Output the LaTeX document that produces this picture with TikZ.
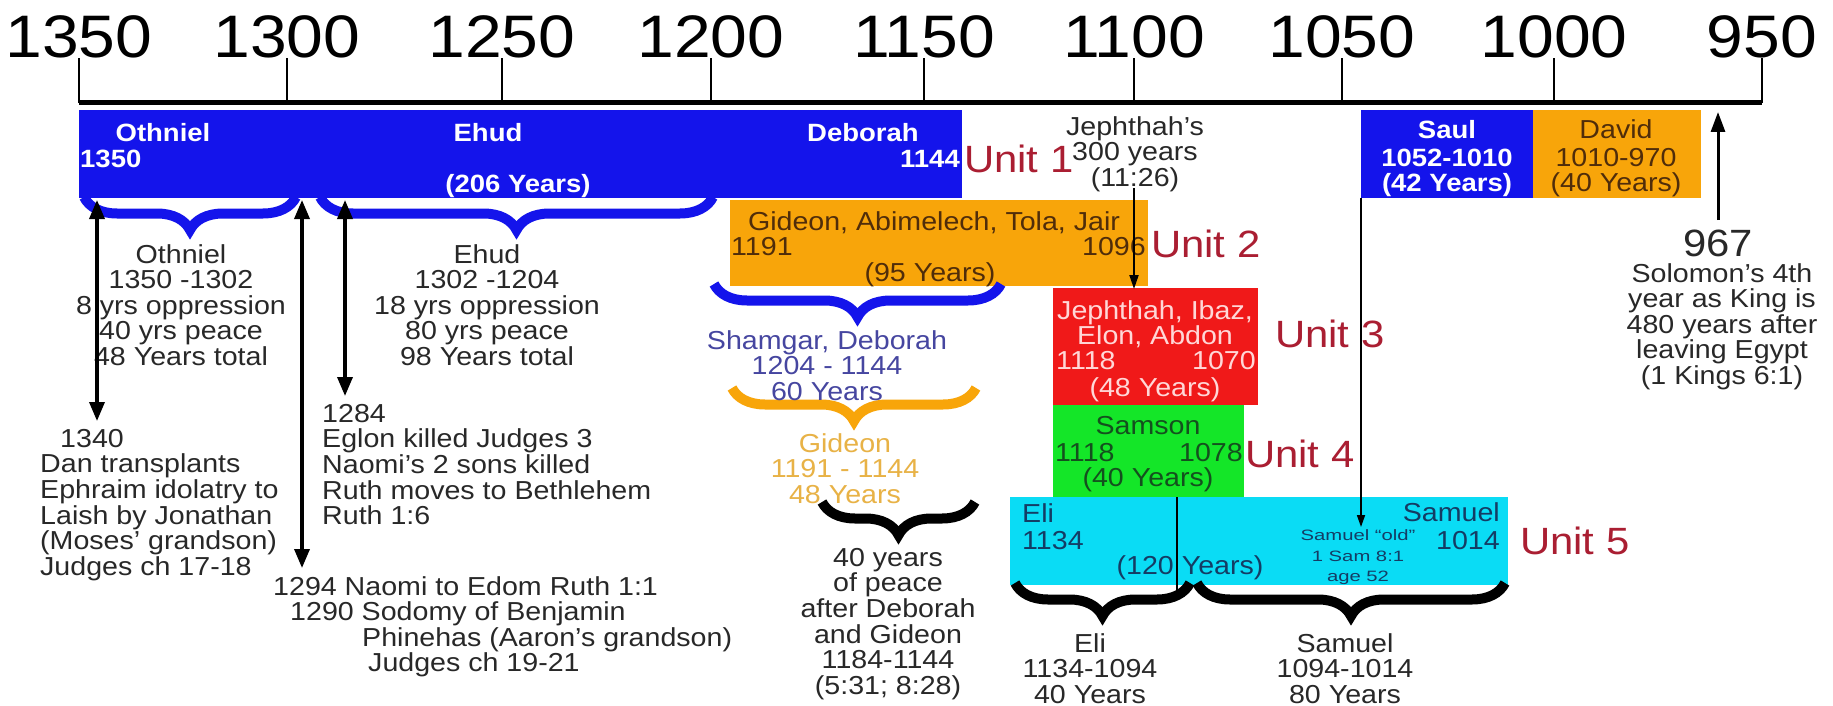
\documentclass[tikz,border=0pt]{standalone}
\usepackage{fontspec}
\setmainfont{Liberation Sans}[FakeStretch=1.1]
\newfontfamily\widefont{Liberation Sans}[FakeStretch=1.35]
\usetikzlibrary{arrows.meta,decorations.pathreplacing}
\definecolor{barblue}{RGB}{20,20,235}
\definecolor{barorange}{RGB}{248,165,10}
\definecolor{barred}{RGB}{240,25,25}
\definecolor{bargreen}{RGB}{20,230,40}
\definecolor{barcyan}{RGB}{10,220,245}
\definecolor{unitred}{RGB}{170,30,50}
\definecolor{slate}{RGB}{70,70,160}
\definecolor{lorange}{RGB}{232,178,70}
\definecolor{txtgray}{RGB}{40,40,40}
\definecolor{brown}{RGB}{80,45,10}
\definecolor{pinktxt}{RGB}{255,215,215}
\definecolor{dgreen}{RGB}{20,80,30}
\definecolor{teal}{RGB}{20,60,100}
\begin{document}
\begin{tikzpicture}[x=1pt,y=-1pt,
  yearlbl/.style={font=\fontsize{60}{60}\selectfont, inner sep=0pt, text=black},
  txt/.style={font=\fontsize{26}{25.6}\selectfont, text=txtgray, inner sep=0pt, align=center},
  lbl/.style={font=\fontsize{26}{26}\selectfont, inner sep=0pt, anchor=base},
  barlbl/.style={font=\bfseries\fontsize{25}{25}\selectfont, text=white, inner sep=0pt, anchor=base},
  unitlbl/.style={font=\fontsize{38}{38}\selectfont, text=unitred, inner sep=0pt, anchor=base west},
  small/.style={font=\widefont\fontsize{15}{15}\selectfont, text=teal, inner sep=0pt, anchor=base},
  box/.style={inner sep=0pt, anchor=north west, draw=none},
  brc/.style={decorate, decoration={brace, mirror, amplitude=33pt}, line width=10pt},
  dbl/.style={line width=3.5pt, {Triangle[length=19pt,width=15pt]}-{Triangle[length=19pt,width=15pt]}},
  thin/.style={line width=1.6pt, -{Triangle[length=12pt,width=8pt]}}
]
\useasboundingbox (0,0) rectangle (1833,706);
\fill[white] (0,0) rectangle (1833,706);

% axis
\coordinate (axL) at (79,103);
\coordinate (axR) at (1762,103);
\draw[line width=5pt] (axL) -- (axR);
\foreach \yr/\xx in {1350/79,1300/287,1250/502,1200/711,1150/924,1100/1134,1050/1342,1000/1554,950/1762}{
  \node[yearlbl] (y\yr) at (\xx,37) {\yr};
  \draw[line width=2pt] (y\yr.south) -- (y\yr.south |- axL);
}

% bars
\node[box, fill=barblue, minimum width=883pt, minimum height=88pt] (u1) at (79,110) {};
\node[box, fill=barorange, minimum width=418pt, minimum height=86pt] (u2) at (730,200) {};
\node[box, fill=barred, minimum width=205pt, minimum height=117pt] (u3) at (1053,288) {};
\node[box, fill=bargreen, minimum width=191pt, minimum height=92pt] (u4) at (1053,405) {};
\node[box, fill=barcyan, minimum width=498pt, minimum height=88pt] (u5) at (1010,497) {};
\node[box, fill=barblue, minimum width=172pt, minimum height=88pt] (saul) at (1361,110) {};
\node[box, fill=barorange, minimum width=168pt, minimum height=88pt] (david) at (1533,110) {};

% braces
\draw[brc, draw=barblue] (84,197) -- (296,197);
\draw[brc, draw=barblue] (320,197) -- (713,197);
\draw[brc, draw=barblue] (714,284) -- (1001,284);
\draw[brc, draw=barorange] (732,388) -- (976,388);
\draw[brc, draw=black] (822,502) -- (975,502);
\draw[brc, draw=black] (1015,583) -- (1190,583);
\draw[brc, draw=black] (1197,583) -- (1505,583);

% unit 1 labels
\node[barlbl] (othl) at (163,142) {Othniel};
\node[barlbl] (ehudl) at (488,142) {Ehud};
\node[barlbl] (debl) at (863,142) {Deborah};
\node[barlbl, anchor=base west] (s1350) at (80,167) {1350};
\node[barlbl, anchor=base east] (e1144) at (960,167) {1144};
\node[barlbl] (y206) at (518,192) {(206 Years)};
\node[unitlbl] (unit1) at (964,172) {Unit 1};

% unit 2
\node[lbl, text=brown] (gid) at (934,230) {Gideon, Abimelech, Tola, Jair};
\node[lbl, text=brown, anchor=base west] (s1191) at (731,255) {1191};
\node[lbl, text=brown, anchor=base east] (e1096) at (1146,255) {1096};
\node[lbl, text=brown] (y95) at (930,281) {(95 Years)};
\node[unitlbl] (unit2) at (1151,257) {Unit 2};

% unit 3
\node[lbl, text=pinktxt] (jep1) at (1155,319) {Jephthah, Ibaz,};
\node[lbl, text=pinktxt] (jep2) at (1155,344) {Elon, Abdon};
\node[lbl, text=pinktxt, anchor=base west] (s1118a) at (1056,369) {1118};
\node[lbl, text=pinktxt, anchor=base east] (e1070) at (1256,369) {1070};
\node[lbl, text=pinktxt] (y48) at (1155,396) {(48 Years)};
\node[unitlbl] (unit3) at (1275,347) {Unit 3};

% unit 4
\node[lbl, text=dgreen] (sam) at (1148,434) {Samson};
\node[lbl, text=dgreen, anchor=base west] (s1118b) at (1055,461) {1118};
\node[lbl, text=dgreen, anchor=base east] (e1078) at (1243,461) {1078};
\node[lbl, text=dgreen] (y40) at (1148,486) {(40 Years)};
\node[unitlbl] (unit4) at (1245,467) {Unit 4};

% unit 5
\node[lbl, text=teal, anchor=base west] (elil) at (1022,522) {Eli};
\node[lbl, text=teal, anchor=base west] (s1134) at (1022,549) {1134};
\node[lbl, text=teal] (y120) at (1190,574) {(120 Years)};
\node[lbl, text=teal, anchor=base east] (saml) at (1500,521) {Samuel};
\node[lbl, text=teal, anchor=base east] (e1014) at (1500,549) {1014};
\node[small] (old1) at (1358,540) {Samuel “old”};
\node[small] (old2) at (1358,561) {1 Sam 8:1};
\node[small] (old3) at (1358,581) {age 52};
\node[unitlbl] (unit5) at (1520,554) {Unit 5};

% Saul and David
\node[barlbl] (saul1) at (1447,139) {Saul};
\node[barlbl] (saul2) at (1447,166) {1052-1010};
\node[barlbl] (saul3) at (1447,191) {(42 Years)};
\node[lbl, text=brown] (dav1) at (1616,139) {David};
\node[lbl, text=brown] (dav2) at (1616,166) {1010-970};
\node[lbl, text=brown] (dav3) at (1616,191) {(40 Years)};

% text blocks
\node[txt, anchor=north] (othtxt) at (181,244) {Othniel\\1350 -1302\\8 yrs oppression\\40 yrs peace\\48 Years total};
\node[txt, anchor=north] (ehudtxt) at (487,244) {Ehud\\1302 -1204\\18 yrs oppression\\80 yrs peace\\98 Years total};
\node[txt, align=left, anchor=north west] (t1340) at (40,429) {\hspace*{20pt}1340\\Dan transplants\\Ephraim idolatry to\\Laish by Jonathan\\(Moses’ grandson)\\Judges ch 17-18};
\node[txt, align=left, anchor=north west] (t1284) at (322,404) {1284\\Eglon killed Judges 3\\Naomi’s 2 sons killed\\Ruth moves to Bethlehem\\Ruth 1:6};
\node[txt, align=left, anchor=north west] (t1294) at (273,576) {1294 Naomi to Edom Ruth 1:1\\\hspace*{17pt}1290 Sodomy of Benjamin\\\hspace*{89pt}Phinehas (Aaron’s grandson)\\\hspace*{95pt}Judges ch 19-21};
\node[txt, anchor=north, text=slate] (shtxt) at (827,330) {Shamgar, Deborah\\1204 - 1144\\60 Years};
\node[txt, anchor=north, text=lorange] (gdtxt) at (845,433) {Gideon\\1191 - 1144\\48 Years};
\node[txt, anchor=north] (peace) at (888,548) {40 years\\of peace\\after Deborah\\and Gideon\\1184-1144\\(5:31; 8:28)};
\node[txt, anchor=north] (elitxt) at (1090,633) {Eli\\1134-1094\\40 Years};
\node[txt, anchor=north] (samtxt) at (1345,633) {Samuel\\1094-1014\\80 Years};
\node[txt, anchor=north] (jeptxt) at (1135,116) {Jephthah’s\\300 years\\(11:26)};
\node[font=\fontsize{38}{38}\selectfont, inner sep=0pt, text=txtgray] (n967) at (1718,243) {967};
\node[txt, anchor=north] (soltxt) at (1722,263) {Solomon’s 4th\\year as King is\\480 years after\\leaving Egypt\\(1 Kings 6:1)};

% arrows
\coordinate (a1u) at (97,200); \coordinate (a1d) at (97,421);
\coordinate (a2u) at (302,200); \coordinate (a2d) at (302,568);
\coordinate (a3u) at (345,200); \coordinate (a3d) at (345,396);
\draw[dbl] (a1u) -- (a1d);
\draw[dbl] (a2u) -- (a2d);
\draw[dbl] (a3u) -- (a3d);
\coordinate (jepA) at (1134,188); \coordinate (jepB) at (1134,289);
\draw[line width=2pt, -{Triangle[length=14pt,width=9pt]}] (jepA) -- (jepB);
\coordinate (samB) at (1361,527);
\draw[thin] (saul.south west) -- (samB);
\coordinate (solA) at (1718,220); \coordinate (solB) at (1718,112);
\draw[line width=3pt, -{Triangle[length=20pt,width=14pt]}] (solA) -- (solB);
\coordinate (divA) at (1177,497); \coordinate (divB) at (1177,590);
\draw[line width=1.6pt] (divA) -- (divB);
\end{tikzpicture}
\end{document}
